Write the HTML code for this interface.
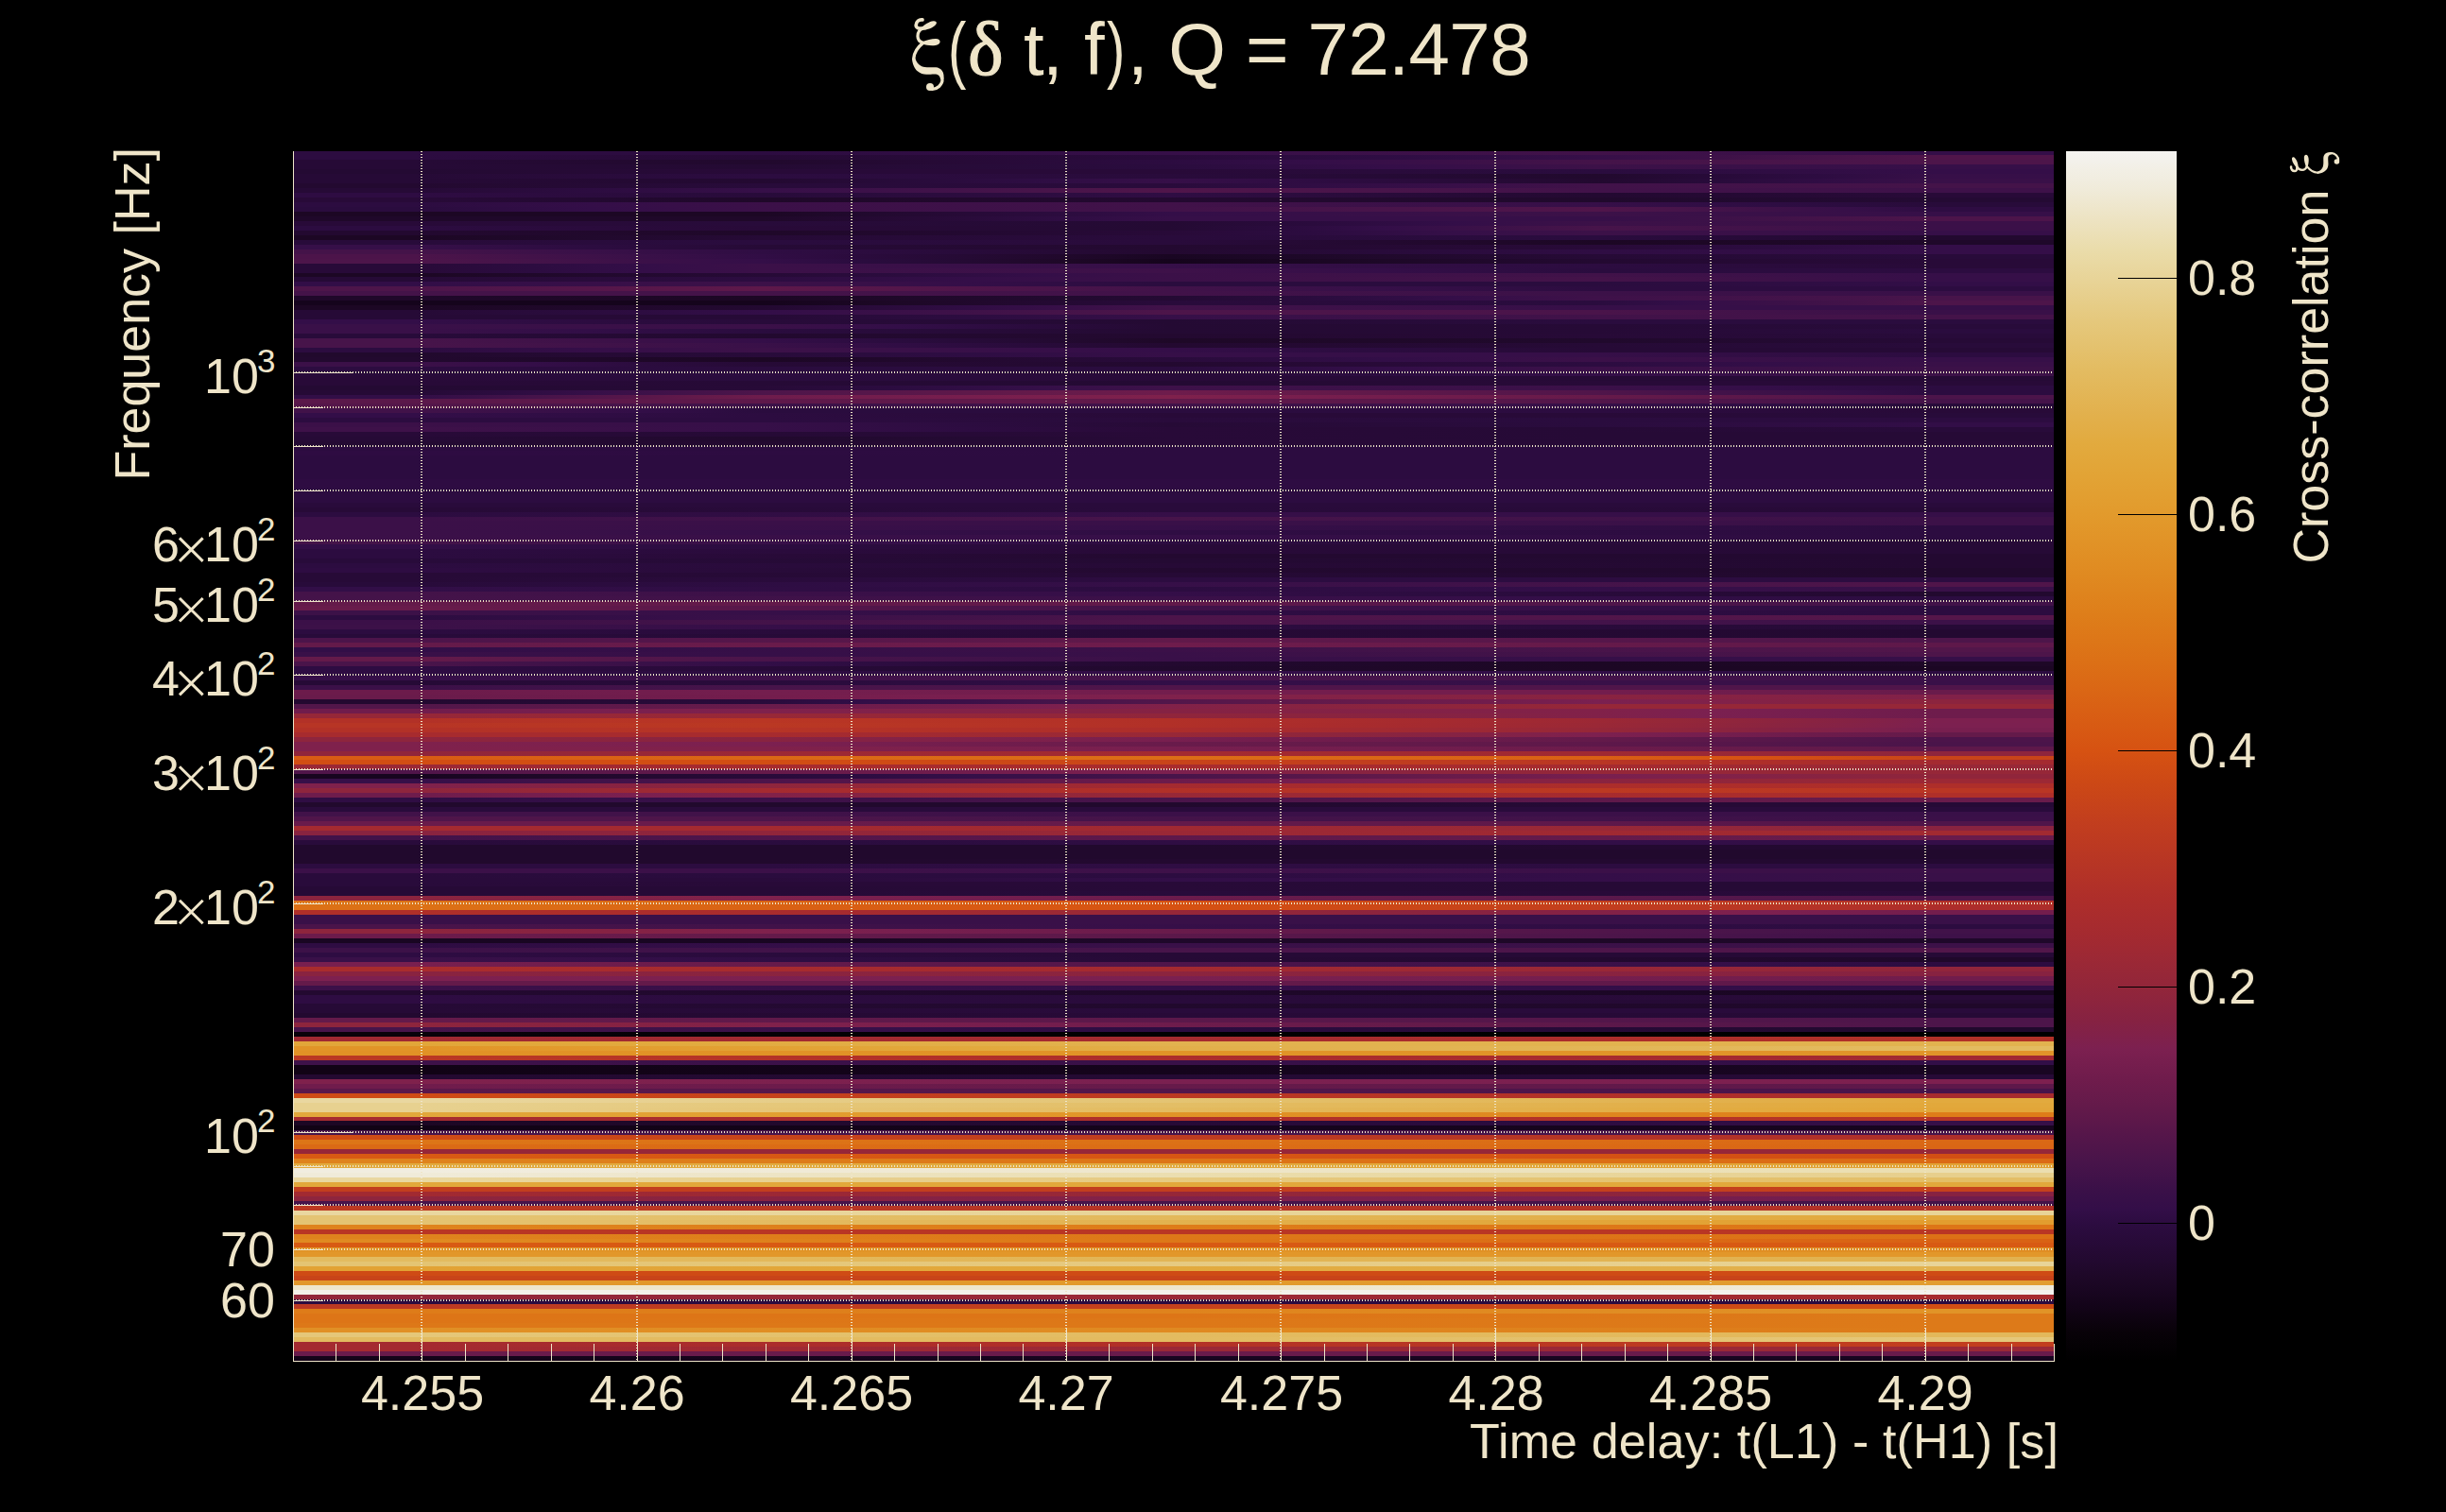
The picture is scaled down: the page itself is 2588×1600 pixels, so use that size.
<!DOCTYPE html><html><head><meta charset="utf-8"><title>xi</title><style>
html,body{margin:0;padding:0;background:#000;}
body{width:2588px;height:1600px;position:relative;overflow:hidden;font-family:"Liberation Sans",sans-serif;color:#efe5c9;}
div{position:absolute;}
.r{left:310px;width:1863px;}
.t{white-space:nowrap;line-height:1;}
.lb{font-size:52px;}
.gv{top:160px;height:1280px;width:2px;background:repeating-linear-gradient(to bottom,#efe5c9 0,#efe5c9 1px,transparent 1px,transparent 3px);}
.gh{left:310px;width:1863px;height:2px;background:repeating-linear-gradient(to right,#efe5c9 0,#efe5c9 1px,transparent 1px,transparent 3px);}
.k{background:#efe5c9;}
sup{font-size:31px;vertical-align:baseline;position:relative;top:-20px;margin-left:3px;}
.sy{font-family:"Liberation Serif",serif;}
</style></head><body>
<div class="r" style="top:1435px;height:5px;background:linear-gradient(to right,#130418 0.0%,#130418 7.0%,#17051f 49.8%,#17051f 93.3%,#17051f 100.0%)"></div>
<div class="r" style="top:1430px;height:5px;background:#691b4b"></div>
<div class="r" style="top:1425px;height:5px;background:linear-gradient(to right,#a42a30 0.0%,#a42a30 7.0%,#9f2933 28.4%,#9a2836 49.8%,#9a2836 93.3%,#9a2836 100.0%)"></div>
<div class="r" style="top:1420px;height:5px;background:linear-gradient(to right,#a42a30 0.0%,#a42a30 7.0%,#a92c2d 21.3%,#ae2e2a 35.5%,#b23127 49.8%,#b83624 64.3%,#bd3a21 78.8%,#c23e1e 93.3%,#c23e1e 100.0%)"></div>
<div class="r" style="top:1415px;height:5px;background:linear-gradient(to right,#e3bb60 0.0%,#e3bb60 7.0%,#e3bb60 49.8%,#e3bf68 64.3%,#e4c371 78.8%,#e5c779 93.3%,#e5c779 100.0%)"></div>
<div class="r" style="top:1410px;height:5px;background:linear-gradient(to right,#e5c779 0.0%,#e5c779 7.0%,#e4c371 21.3%,#e3bf68 35.5%,#e3bb60 49.8%,#e3b85a 93.3%,#e3b85a 100.0%)"></div>
<div class="r" style="top:1405px;height:5px;background:linear-gradient(to right,#e19025 0.0%,#e19025 7.0%,#e08a21 49.8%,#df851e 64.3%,#de7f1b 78.8%,#dd7a19 93.3%,#dd7a19 100.0%)"></div>
<div class="r" style="top:1400px;height:5px;background:linear-gradient(to right,#dd7818 0.0%,#dd7818 7.0%,#dd7818 49.8%,#dd7a19 93.3%,#dd7a19 100.0%)"></div>
<div class="r" style="top:1395px;height:5px;background:linear-gradient(to right,#dd7517 0.0%,#dd7517 7.0%,#dd7818 49.8%,#dd7a19 93.3%,#dd7a19 100.0%)"></div>
<div class="r" style="top:1390px;height:5px;background:linear-gradient(to right,#dd7517 0.0%,#dd7517 7.0%,#dd7517 49.8%,#dd7a19 93.3%,#dd7a19 100.0%)"></div>
<div class="r" style="top:1385px;height:5px;background:linear-gradient(to right,#de7c19 0.0%,#de7c19 7.0%,#de7f1b 28.4%,#df831d 49.8%,#e08920 64.3%,#e08e24 78.8%,#e19427 93.3%,#e19427 100.0%)"></div>
<div class="r" style="top:1380px;height:5px;background:linear-gradient(to right,#bc3922 0.0%,#bc3922 7.0%,#c03d1f 28.4%,#c5411c 49.8%,#c94518 64.3%,#ce4a15 78.8%,#d24e13 93.3%,#d24e13 100.0%)"></div>
<div class="r" style="top:1375px;height:5px;background:#2c0c40"></div>
<div class="r" style="top:1370px;height:5px;background:linear-gradient(to right,#92263a 0.0%,#92263a 7.0%,#9a2836 49.8%,#a02932 71.6%,#a62b2f 93.3%,#a62b2f 100.0%)"></div>
<div class="r" style="top:1365px;height:5px;background:linear-gradient(to right,#f3f1ea 0.0%,#f3f1ea 7.0%,#f3f1ea 49.8%,#f4f2ee 93.3%,#f4f2ee 100.0%)"></div>
<div class="r" style="top:1360px;height:5px;background:linear-gradient(to right,#eee6cb 0.0%,#eee6cb 7.0%,#eee6cb 49.8%,#f0ebd9 93.3%,#f0ebd9 100.0%)"></div>
<div class="r" style="top:1355px;height:5px;background:linear-gradient(to right,#e2972a 0.0%,#e2972a 7.0%,#e29a2c 49.8%,#e29d2f 93.3%,#e29d2f 100.0%)"></div>
<div class="r" style="top:1350px;height:5px;background:#c84419"></div>
<div class="r" style="top:1345px;height:5px;background:#cf4b15"></div>
<div class="r" style="top:1340px;height:5px;background:linear-gradient(to right,#e2a234 0.0%,#e2a234 7.0%,#e2a639 28.4%,#e2aa3e 49.8%,#e2ae47 71.6%,#e2b24f 93.3%,#e2b24f 100.0%)"></div>
<div class="r" style="top:1335px;height:5px;background:linear-gradient(to right,#e4c473 0.0%,#e4c473 7.0%,#e5c779 28.4%,#e6ca81 49.8%,#e7cf8c 71.6%,#e8d498 93.3%,#e8d498 100.0%)"></div>
<div class="r" style="top:1330px;height:5px;background:linear-gradient(to right,#e3bb60 0.0%,#e3bb60 7.0%,#e3b85a 28.4%,#e2b555 49.8%,#e2b24f 93.3%,#e2b24f 100.0%)"></div>
<div class="r" style="top:1325px;height:5px;background:#e2972a"></div>
<div class="r" style="top:1320px;height:5px;background:linear-gradient(to right,#e19427 0.0%,#e19427 7.0%,#e19427 49.8%,#e08d23 93.3%,#e08d23 100.0%)"></div>
<div class="r" style="top:1315px;height:5px;background:#d85a13"></div>
<div class="r" style="top:1311px;height:4px;background:linear-gradient(to right,#e08a21 0.0%,#e08a21 7.0%,#df841d 21.3%,#de7e1a 35.5%,#dd7818 49.8%,#dc7116 64.3%,#db6a15 78.8%,#d96214 93.3%,#d96214 100.0%)"></div>
<div class="r" style="top:1306px;height:5px;background:linear-gradient(to right,#df831d 0.0%,#df831d 7.0%,#de7e1a 28.4%,#dd7818 49.8%,#dd7517 71.6%,#dc7116 93.3%,#dc7116 100.0%)"></div>
<div class="r" style="top:1301px;height:5px;background:#b93624"></div>
<div class="r" style="top:1296px;height:5px;background:linear-gradient(to right,#df831d 0.0%,#df831d 7.0%,#de7f1b 28.4%,#de7c19 49.8%,#dd7818 71.6%,#dd7517 93.3%,#dd7517 100.0%)"></div>
<div class="r" style="top:1291px;height:5px;background:linear-gradient(to right,#e4c473 0.0%,#e4c473 7.0%,#e4bf69 17.7%,#e3bb60 28.4%,#e3b658 39.1%,#e2b24f 49.8%,#e2ac44 60.7%,#e2a73b 71.6%,#e2a234 82.4%,#e29d2f 93.3%,#e29d2f 100.0%)"></div>
<div class="r" style="top:1286px;height:5px;background:linear-gradient(to right,#e4c473 0.0%,#e4c473 7.0%,#e4c06a 21.3%,#e3bc62 35.5%,#e3b85a 49.8%,#e2b24f 64.3%,#e2ac44 78.8%,#e2a83b 93.3%,#e2a83b 100.0%)"></div>
<div class="r" style="top:1281px;height:5px;background:linear-gradient(to right,#e9d7a0 0.0%,#e9d7a0 7.0%,#e8d498 49.8%,#e8d498 93.3%,#e8d498 100.0%)"></div>
<div class="r" style="top:1276px;height:5px;background:linear-gradient(to right,#bc3922 0.0%,#bc3922 7.0%,#b93624 28.4%,#b63426 49.8%,#b23127 93.3%,#b23127 100.0%)"></div>
<div class="r" style="top:1271px;height:5px;background:linear-gradient(to right,#47144a 0.0%,#47144a 7.0%,#47144a 49.8%,#441349 93.3%,#441349 100.0%)"></div>
<div class="r" style="top:1266px;height:5px;background:linear-gradient(to right,#8e253d 0.0%,#8e253d 7.0%,#872241 28.4%,#812149 49.8%,#791f4f 71.6%,#701c4c 93.3%,#701c4c 100.0%)"></div>
<div class="r" style="top:1261px;height:5px;background:linear-gradient(to right,#a22a31 0.0%,#a22a31 7.0%,#9c2835 28.4%,#962738 49.8%,#8f253c 71.6%,#872241 93.3%,#872241 100.0%)"></div>
<div class="r" style="top:1256px;height:5px;background:linear-gradient(to right,#c23e1e 0.0%,#c23e1e 7.0%,#c23e1e 49.8%,#c5411c 93.3%,#c5411c 100.0%)"></div>
<div class="r" style="top:1251px;height:5px;background:#e2a83b"></div>
<div class="r" style="top:1246px;height:5px;background:linear-gradient(to right,#e9d7a0 0.0%,#e9d7a0 7.0%,#e8d395 21.3%,#e7ce8b 35.5%,#e6ca81 49.8%,#e5c677 64.3%,#e4c26f 78.8%,#e3be66 93.3%,#e3be66 100.0%)"></div>
<div class="r" style="top:1241px;height:5px;background:linear-gradient(to right,#f0ebd9 0.0%,#f0ebd9 7.0%,#eee6cb 21.3%,#ece2bd 35.5%,#ebdeb0 49.8%,#e9d9a3 64.3%,#e8d498 78.8%,#e7cf8c 93.3%,#e7cf8c 100.0%)"></div>
<div class="r" style="top:1236px;height:5px;background:linear-gradient(to right,#f1ede0 0.0%,#f1ede0 7.0%,#f0ead7 28.4%,#eee6cb 49.8%,#ece2bd 71.6%,#ebdeb0 93.3%,#ebdeb0 100.0%)"></div>
<div class="r" style="top:1231px;height:5px;background:linear-gradient(to right,#e2aa3e 0.0%,#e2aa3e 7.0%,#e2aa3e 49.8%,#e2a639 71.6%,#e2a234 93.3%,#e2a234 100.0%)"></div>
<div class="r" style="top:1226px;height:5px;background:linear-gradient(to right,#df831d 0.0%,#df831d 7.0%,#de7e1a 21.3%,#dd7a19 35.5%,#dd7517 49.8%,#dc7016 71.6%,#db6a15 93.3%,#db6a15 100.0%)"></div>
<div class="r" style="top:1221px;height:5px;background:linear-gradient(to right,#d85a13 0.0%,#d85a13 7.0%,#d75613 49.8%,#d24e13 93.3%,#d24e13 100.0%)"></div>
<div class="r" style="top:1216px;height:5px;background:#962738"></div>
<div class="r" style="top:1211px;height:5px;background:linear-gradient(to right,#db6a15 0.0%,#db6a15 7.0%,#dc6e16 49.8%,#da6615 93.3%,#da6615 100.0%)"></div>
<div class="r" style="top:1206px;height:5px;background:linear-gradient(to right,#dd7517 0.0%,#dd7517 7.0%,#dc7116 49.8%,#db6d16 71.6%,#da6815 93.3%,#da6815 100.0%)"></div>
<div class="r" style="top:1201px;height:5px;background:linear-gradient(to right,#cf4b15 0.0%,#cf4b15 7.0%,#c94518 21.3%,#c4401c 35.5%,#bf3c20 49.8%,#b93723 64.3%,#b33227 78.8%,#ae2e2a 93.3%,#ae2e2a 100.0%)"></div>
<div class="r" style="top:1196px;height:5px;background:#47144a"></div>
<div class="r" style="top:1191px;height:5px;background:linear-gradient(to right,#110315 0.0%,#110315 7.0%,#15041c 49.8%,#17051f 93.3%,#17051f 100.0%)"></div>
<div class="r" style="top:1186px;height:5px;background:linear-gradient(to right,#1c0724 0.0%,#1c0724 7.0%,#21092d 28.4%,#260a36 49.8%,#2c0c40 71.6%,#360f48 93.3%,#360f48 100.0%)"></div>
<div class="r" style="top:1182px;height:4px;background:linear-gradient(to right,#a62b2f 0.0%,#a62b2f 7.0%,#ab2d2c 28.4%,#af2f29 49.8%,#b63426 93.3%,#b63426 100.0%)"></div>
<div class="r" style="top:1177px;height:5px;background:linear-gradient(to right,#e2a83b 0.0%,#e2a83b 7.0%,#e2a335 17.7%,#e29e30 28.4%,#e2992b 39.1%,#e19427 49.8%,#e08e23 60.7%,#df8820 71.6%,#df821c 82.4%,#de7c19 93.3%,#de7c19 100.0%)"></div>
<div class="r" style="top:1172px;height:5px;background:linear-gradient(to right,#e7d190 0.0%,#e7d190 7.0%,#e6cb83 17.7%,#e5c576 28.4%,#e4c06b 39.1%,#e3bb60 49.8%,#e2b555 60.7%,#e2b04b 71.6%,#e2ab40 82.4%,#e2a639 93.3%,#e2a639 100.0%)"></div>
<div class="r" style="top:1167px;height:5px;background:linear-gradient(to right,#e7d190 0.0%,#e7d190 7.0%,#e6cc85 17.7%,#e5c779 28.4%,#e4c270 39.1%,#e3be66 49.8%,#e3b85a 60.7%,#e2b24f 71.6%,#e2ac44 82.4%,#e2a83b 93.3%,#e2a83b 100.0%)"></div>
<div class="r" style="top:1162px;height:5px;background:linear-gradient(to right,#e9d7a0 0.0%,#e9d7a0 7.0%,#e8d294 17.7%,#e6cd88 28.4%,#e5c87d 39.1%,#e4c473 49.8%,#e3be67 58.5%,#e3b95c 67.2%,#e2b453 75.9%,#e2ae48 84.6%,#e2aa3e 93.3%,#e2aa3e 100.0%)"></div>
<div class="r" style="top:1157px;height:5px;background:linear-gradient(to right,#cf4b15 0.0%,#cf4b15 7.0%,#c84419 21.3%,#c23e1e 35.5%,#bc3922 49.8%,#b73525 60.7%,#b23128 71.6%,#ad2d2b 82.4%,#a72b2e 93.3%,#a72b2e 100.0%)"></div>
<div class="r" style="top:1152px;height:5px;background:linear-gradient(to right,#5b184a 0.0%,#5b184a 7.0%,#52164a 49.8%,#4d154a 71.6%,#47144a 93.3%,#47144a 100.0%)"></div>
<div class="r" style="top:1147px;height:5px;background:linear-gradient(to right,#701c4c 0.0%,#701c4c 7.0%,#6c1b4b 28.4%,#661a4a 49.8%,#5e184a 93.3%,#5e184a 100.0%)"></div>
<div class="r" style="top:1142px;height:5px;background:linear-gradient(to right,#7f214c 0.0%,#7f214c 7.0%,#7a2050 49.8%,#7d204f 93.3%,#7d204f 100.0%)"></div>
<div class="r" style="top:1137px;height:5px;background:linear-gradient(to right,#230930 0.0%,#230930 7.0%,#240a33 49.8%,#260a36 93.3%,#260a36 100.0%)"></div>
<div class="r" style="top:1132px;height:5px;background:linear-gradient(to right,#110315 0.0%,#110315 7.0%,#15041c 49.8%,#190622 93.3%,#190622 100.0%)"></div>
<div class="r" style="top:1127px;height:5px;background:linear-gradient(to right,#110315 0.0%,#110315 7.0%,#15041c 49.8%,#190622 93.3%,#190622 100.0%)"></div>
<div class="r" style="top:1122px;height:5px;background:linear-gradient(to right,#3e1149 0.0%,#3e1149 7.0%,#391048 49.8%,#320e47 93.3%,#320e47 100.0%)"></div>
<div class="r" style="top:1117px;height:5px;background:linear-gradient(to right,#ba3823 0.0%,#ba3823 7.0%,#b63426 21.3%,#b13028 35.5%,#ac2d2b 49.8%,#a72b2e 71.6%,#a02932 93.3%,#a02932 100.0%)"></div>
<div class="r" style="top:1112px;height:5px;background:linear-gradient(to right,#e19226 0.0%,#e19226 7.0%,#e19427 49.8%,#e19529 93.3%,#e19529 100.0%)"></div>
<div class="r" style="top:1107px;height:5px;background:linear-gradient(to right,#e19427 0.0%,#e19427 7.0%,#e2992b 14.1%,#e29e30 21.3%,#e2a234 28.4%,#e2a73a 35.5%,#e2ab40 42.7%,#e2af4a 49.8%,#e2b555 71.6%,#e3bb60 93.3%,#e3bb60 100.0%)"></div>
<div class="r" style="top:1102px;height:5px;background:linear-gradient(to right,#e2a639 0.0%,#e2a639 7.0%,#e2aa3e 21.3%,#e2ae47 35.5%,#e2b24f 49.8%,#e2b24f 93.3%,#e2b24f 100.0%)"></div>
<div class="r" style="top:1097px;height:5px;background:linear-gradient(to right,#a02932 0.0%,#a02932 7.0%,#a62b2f 49.8%,#ac2d2b 71.6%,#b23127 93.3%,#b23127 100.0%)"></div>
<div class="r" style="top:1092px;height:5px;background:linear-gradient(to right,#09020a 0.0%,#09020a 7.0%,#050105 28.4%,#020102 49.8%,#000000 93.3%,#000000 100.0%)"></div>
<div class="r" style="top:1087px;height:5px;background:linear-gradient(to right,#47144a 0.0%,#47144a 7.0%,#3d1148 21.3%,#350f48 35.5%,#2c0c40 49.8%,#270a37 71.6%,#21092d 93.3%,#21092d 100.0%)"></div>
<div class="r" style="top:1082px;height:5px;background:linear-gradient(to right,#8e253d 0.0%,#8e253d 7.0%,#862242 17.7%,#7f214c 28.4%,#771e4e 39.1%,#6e1c4c 49.8%,#641a4a 64.3%,#58174a 78.8%,#4d154a 93.3%,#4d154a 100.0%)"></div>
<div class="r" style="top:1077px;height:5px;background:linear-gradient(to right,#641a4a 0.0%,#641a4a 7.0%,#5b184a 49.8%,#54164a 71.6%,#4d154a 93.3%,#4d154a 100.0%)"></div>
<div class="r" style="top:1072px;height:5px;background:linear-gradient(to right,#230930 0.0%,#230930 7.0%,#280a38 49.8%,#260a36 93.3%,#260a36 100.0%)"></div>
<div class="r" style="top:1067px;height:5px;background:linear-gradient(to right,#260a36 0.0%,#260a36 7.0%,#290b3b 49.8%,#290b3b 93.3%,#290b3b 100.0%)"></div>
<div class="r" style="top:1062px;height:5px;background:linear-gradient(to right,#260a36 0.0%,#260a36 7.0%,#21092d 49.8%,#1f082a 93.3%,#1f082a 100.0%)"></div>
<div class="r" style="top:1058px;height:4px;background:linear-gradient(to right,#2e0c42 0.0%,#2e0c42 7.0%,#290b3b 49.8%,#240a33 93.3%,#240a33 100.0%)"></div>
<div class="r" style="top:1053px;height:5px;background:linear-gradient(to right,#2e0c42 0.0%,#2e0c42 7.0%,#290b3b 49.8%,#280a38 93.3%,#280a38 100.0%)"></div>
<div class="r" style="top:1048px;height:5px;background:linear-gradient(to right,#230930 0.0%,#230930 7.0%,#1f082a 49.8%,#190622 93.3%,#190622 100.0%)"></div>
<div class="r" style="top:1043px;height:5px;background:linear-gradient(to right,#3b1048 0.0%,#3b1048 7.0%,#340e48 49.8%,#320e47 93.3%,#320e47 100.0%)"></div>
<div class="r" style="top:1038px;height:5px;background:linear-gradient(to right,#641a4a 0.0%,#641a4a 7.0%,#641a4a 49.8%,#5e184a 93.3%,#5e184a 100.0%)"></div>
<div class="r" style="top:1033px;height:5px;background:linear-gradient(to right,#7d204f 0.0%,#7d204f 7.0%,#7a2050 49.8%,#701c4c 93.3%,#701c4c 100.0%)"></div>
<div class="r" style="top:1028px;height:5px;background:linear-gradient(to right,#892340 0.0%,#892340 7.0%,#8c243e 49.8%,#872241 93.3%,#872241 100.0%)"></div>
<div class="r" style="top:1023px;height:5px;background:linear-gradient(to right,#a92c2d 0.0%,#a92c2d 7.0%,#a42a30 49.8%,#9d2934 64.3%,#972738 78.8%,#90253b 93.3%,#90253b 100.0%)"></div>
<div class="r" style="top:1018px;height:5px;background:linear-gradient(to right,#791f4f 0.0%,#791f4f 7.0%,#6f1c4c 17.7%,#661a4a 28.4%,#5b174a 39.1%,#50154a 49.8%,#46134a 60.7%,#3d1148 71.6%,#350f48 82.4%,#2c0c40 93.3%,#2c0c40 100.0%)"></div>
<div class="r" style="top:1013px;height:5px;background:linear-gradient(to right,#391048 0.0%,#391048 7.0%,#320e47 21.3%,#2a0c3e 35.5%,#260a36 49.8%,#1f082a 93.3%,#1f082a 100.0%)"></div>
<div class="r" style="top:1008px;height:5px;background:linear-gradient(to right,#2e0c42 0.0%,#2e0c42 7.0%,#290b3c 28.4%,#260a36 49.8%,#260a36 93.3%,#260a36 100.0%)"></div>
<div class="r" style="top:1003px;height:5px;background:linear-gradient(to right,#3c1148 0.0%,#3c1148 7.0%,#47144a 49.8%,#4d154a 71.6%,#52164a 93.3%,#52164a 100.0%)"></div>
<div class="r" style="top:998px;height:5px;background:linear-gradient(to right,#2e0c42 0.0%,#2e0c42 7.0%,#340e48 28.4%,#391048 49.8%,#3c1148 93.3%,#3c1148 100.0%)"></div>
<div class="r" style="top:993px;height:5px;background:linear-gradient(to right,#190622 0.0%,#190622 7.0%,#190622 26.7%,#1f082a 49.8%,#1e0827 74.0%,#1f082a 93.3%,#1f082a 100.0%)"></div>
<div class="r" style="top:988px;height:5px;background:linear-gradient(to right,#6c1b4b 0.0%,#6c1b4b 7.0%,#641a4a 26.7%,#5b184a 49.8%,#54164a 61.9%,#4d154a 74.0%,#45134a 83.6%,#3e1149 93.3%,#3e1149 100.0%)"></div>
<div class="r" style="top:983px;height:5px;background:linear-gradient(to right,#8e253d 0.0%,#8e253d 7.0%,#862242 16.9%,#7f214c 26.7%,#781f4f 34.4%,#701c4c 42.1%,#691b4b 49.8%,#61194a 57.9%,#58174a 65.9%,#50154a 74.0%,#48144a 83.6%,#411249 93.3%,#411249 100.0%)"></div>
<div class="r" style="top:978px;height:5px;background:linear-gradient(to right,#4a144a 0.0%,#4a144a 7.0%,#411249 26.7%,#360f48 49.8%,#2f0d43 74.0%,#2c0c40 93.3%,#2c0c40 100.0%)"></div>
<div class="r" style="top:973px;height:5px;background:#391048"></div>
<div class="r" style="top:968px;height:5px;background:#391048"></div>
<div class="r" style="top:963px;height:5px;background:linear-gradient(to right,#af2f29 0.0%,#af2f29 7.0%,#ac2d2b 16.9%,#a92c2d 26.7%,#a42a30 34.4%,#9d2934 42.1%,#962738 49.8%,#90253b 57.9%,#892340 65.9%,#832146 74.0%,#7c2050 83.6%,#731d4d 93.3%,#731d4d 100.0%)"></div>
<div class="r" style="top:958px;height:5px;background:linear-gradient(to right,#dc7116 0.0%,#dc7116 7.0%,#db6a15 16.9%,#d96214 26.7%,#d85a13 38.3%,#d65212 49.8%,#cf4b15 57.9%,#c84419 65.9%,#c23e1e 74.0%,#bd3a21 78.8%,#b73525 83.6%,#b23128 88.5%,#ac2d2b 93.3%,#ac2d2b 100.0%)"></div>
<div class="r" style="top:953px;height:5px;background:linear-gradient(to right,#dc7317 0.0%,#dc7317 7.0%,#db6c15 16.9%,#da6414 26.7%,#d85e14 34.4%,#d75813 42.1%,#d65212 49.8%,#cf4b15 57.9%,#c94518 65.9%,#c4401d 74.0%,#bd3a21 80.4%,#b73525 86.8%,#b13028 93.3%,#b13028 100.0%)"></div>
<div class="r" style="top:948px;height:5px;background:linear-gradient(to right,#8c243e 0.0%,#8c243e 7.0%,#852243 16.9%,#7f214c 26.7%,#761e4e 38.3%,#6c1b4b 49.8%,#641a4a 61.9%,#5b184a 74.0%,#53164a 83.6%,#4c144a 93.3%,#4c144a 100.0%)"></div>
<div class="r" style="top:943px;height:5px;background:linear-gradient(to right,#260a36 0.0%,#260a36 7.0%,#260a36 26.7%,#280b3a 49.8%,#280a38 74.0%,#290b3b 93.3%,#290b3b 100.0%)"></div>
<div class="r" style="top:938px;height:5px;background:linear-gradient(to right,#260a36 0.0%,#260a36 7.0%,#260a36 26.7%,#280a38 49.8%,#260a36 74.0%,#260a36 93.3%,#260a36 100.0%)"></div>
<div class="r" style="top:933px;height:5px;background:linear-gradient(to right,#290b3b 0.0%,#290b3b 7.0%,#280a38 26.7%,#280a38 49.8%,#260a36 74.0%,#260a36 93.3%,#260a36 100.0%)"></div>
<div class="r" style="top:929px;height:4px;background:linear-gradient(to right,#290b3b 0.0%,#290b3b 7.0%,#290b3b 26.7%,#320e47 49.8%,#340e48 74.0%,#391048 93.3%,#391048 100.0%)"></div>
<div class="r" style="top:924px;height:5px;background:linear-gradient(to right,#290b3b 0.0%,#290b3b 7.0%,#2a0c3e 26.7%,#2c0c40 49.8%,#340e48 74.0%,#391048 93.3%,#391048 100.0%)"></div>
<div class="r" style="top:919px;height:5px;background:linear-gradient(to right,#3b1048 0.0%,#3b1048 7.0%,#3b1048 26.7%,#3e1149 49.8%,#3b1048 74.0%,#3b1048 93.3%,#3b1048 100.0%)"></div>
<div class="r" style="top:914px;height:5px;background:linear-gradient(to right,#2c0c40 0.0%,#2c0c40 7.0%,#2c0c40 26.7%,#2f0d43 49.8%,#2c0c40 74.0%,#2c0c40 93.3%,#2c0c40 100.0%)"></div>
<div class="r" style="top:909px;height:5px;background:linear-gradient(to right,#21092d 0.0%,#21092d 7.0%,#21092d 26.7%,#230930 49.8%,#230930 74.0%,#230931 93.3%,#230931 100.0%)"></div>
<div class="r" style="top:904px;height:5px;background:#21092d"></div>
<div class="r" style="top:899px;height:5px;background:#21092d"></div>
<div class="r" style="top:894px;height:5px;background:linear-gradient(to right,#21092d 0.0%,#21092d 7.0%,#21092d 26.7%,#21092d 49.8%,#230930 74.0%,#230931 93.3%,#230931 100.0%)"></div>
<div class="r" style="top:889px;height:5px;background:linear-gradient(to right,#290b3b 0.0%,#290b3b 7.0%,#2a0c3e 26.7%,#2f0d43 49.8%,#320e47 74.0%,#340e48 93.3%,#340e48 100.0%)"></div>
<div class="r" style="top:884px;height:5px;background:linear-gradient(to right,#411249 0.0%,#411249 7.0%,#48144a 16.9%,#50154a 26.7%,#57164a 38.3%,#5e184a 49.8%,#641a4a 74.0%,#691b4b 93.3%,#691b4b 100.0%)"></div>
<div class="r" style="top:879px;height:5px;background:linear-gradient(to right,#892340 0.0%,#892340 7.0%,#90253b 26.7%,#952738 38.3%,#9a2836 49.8%,#a02932 74.0%,#a22a31 93.3%,#a22a31 100.0%)"></div>
<div class="r" style="top:874px;height:5px;background:linear-gradient(to right,#a42a30 0.0%,#a42a30 7.0%,#a42a30 26.7%,#a02932 49.8%,#982837 74.0%,#91263b 83.6%,#892340 93.3%,#892340 100.0%)"></div>
<div class="r" style="top:869px;height:5px;background:linear-gradient(to right,#691b4b 0.0%,#691b4b 7.0%,#691b4b 26.7%,#641a4a 49.8%,#5e184a 74.0%,#57164a 83.6%,#50154a 93.3%,#50154a 100.0%)"></div>
<div class="r" style="top:864px;height:5px;background:linear-gradient(to right,#50154a 0.0%,#50154a 7.0%,#4d154a 26.7%,#441349 49.8%,#411249 74.0%,#3b1048 93.3%,#3b1048 100.0%)"></div>
<div class="r" style="top:859px;height:5px;background:linear-gradient(to right,#411249 0.0%,#411249 7.0%,#411249 26.7%,#3b1048 49.8%,#3b1048 74.0%,#391048 93.3%,#391048 100.0%)"></div>
<div class="r" style="top:854px;height:5px;background:#290b3b"></div>
<div class="r" style="top:849px;height:5px;background:linear-gradient(to right,#21092d 0.0%,#21092d 7.0%,#21092d 26.7%,#21092d 49.8%,#260a36 74.0%,#260a36 93.3%,#260a36 100.0%)"></div>
<div class="r" style="top:844px;height:5px;background:linear-gradient(to right,#2f0d43 0.0%,#2f0d43 7.0%,#350f48 16.9%,#3b1048 26.7%,#421249 38.3%,#4a144a 49.8%,#54164a 61.9%,#5e184a 74.0%,#641a4a 83.6%,#691b4b 93.3%,#691b4b 100.0%)"></div>
<div class="r" style="top:839px;height:5px;background:linear-gradient(to right,#6e1c4c 0.0%,#6e1c4c 7.0%,#751e4e 13.6%,#7b2050 20.1%,#812149 26.7%,#892340 34.4%,#91263b 42.1%,#982837 49.8%,#9d2934 57.9%,#a32a31 65.9%,#a72b2e 74.0%,#ab2d2c 83.6%,#af2f29 93.3%,#af2f29 100.0%)"></div>
<div class="r" style="top:834px;height:5px;background:linear-gradient(to right,#8e253d 0.0%,#8e253d 7.0%,#952738 13.6%,#9d2934 20.1%,#a42a30 26.7%,#ab2d2c 38.3%,#b13028 49.8%,#b63525 61.9%,#bc3922 74.0%,#b93624 93.3%,#b93624 100.0%)"></div>
<div class="r" style="top:829px;height:5px;background:linear-gradient(to right,#7f214c 0.0%,#7f214c 7.0%,#862242 16.9%,#8e253d 26.7%,#952738 34.4%,#9d2934 42.1%,#a42a30 49.8%,#a82c2d 61.9%,#ac2d2b 74.0%,#ae2e2a 93.3%,#ae2e2a 100.0%)"></div>
<div class="r" style="top:824px;height:5px;background:linear-gradient(to right,#360f48 0.0%,#360f48 7.0%,#401249 16.9%,#4c144a 26.7%,#57164a 34.4%,#62194a 42.1%,#6c1b4b 49.8%,#741d4d 55.9%,#7c2050 61.9%,#832147 67.9%,#892340 74.0%,#90253b 80.4%,#962738 86.8%,#9c2835 93.3%,#9c2835 100.0%)"></div>
<div class="r" style="top:819px;height:5px;background:linear-gradient(to right,#17051f 0.0%,#17051f 7.0%,#1e0827 13.6%,#230930 20.1%,#280a39 26.7%,#2d0c41 32.5%,#350f48 38.3%,#3d1148 44.0%,#47144a 49.8%,#51154a 54.6%,#5c184a 59.5%,#661a4a 64.3%,#6f1c4c 69.1%,#781f4f 74.0%,#80214a 80.4%,#882341 86.8%,#90253b 93.3%,#90253b 100.0%)"></div>
<div class="r" style="top:814px;height:5px;background:linear-gradient(to right,#50154a 0.0%,#50154a 7.0%,#5b184a 16.9%,#661a4a 26.7%,#6e1c4c 34.4%,#761e4e 42.1%,#7d204f 49.8%,#852243 57.9%,#8e253d 65.9%,#962738 74.0%,#962738 93.3%,#962738 100.0%)"></div>
<div class="r" style="top:809px;height:5px;background:linear-gradient(to right,#9a2836 0.0%,#9a2836 7.0%,#a12932 16.9%,#a72b2e 26.7%,#a92c2d 49.8%,#a62b2f 74.0%,#9f2933 83.6%,#982837 93.3%,#982837 100.0%)"></div>
<div class="r" style="top:804px;height:5px;background:linear-gradient(to right,#d24e13 0.0%,#d24e13 7.0%,#d24e13 26.7%,#cd4916 38.3%,#c84419 49.8%,#c33f1d 57.9%,#be3b20 65.9%,#b93624 74.0%,#b43227 78.8%,#ae2e2a 83.6%,#a92c2d 88.5%,#a42a30 93.3%,#a42a30 100.0%)"></div>
<div class="r" style="top:800px;height:4px;background:linear-gradient(to right,#d85c13 0.0%,#d85c13 7.0%,#d96214 16.9%,#da6815 26.7%,#dc6e16 49.8%,#da6715 61.9%,#d96014 74.0%,#d75813 78.8%,#d55112 83.6%,#ce4a15 88.5%,#c84419 93.3%,#c84419 100.0%)"></div>
<div class="r" style="top:795px;height:5px;background:linear-gradient(to right,#90253b 0.0%,#90253b 7.0%,#962738 16.9%,#9c2835 26.7%,#a42a30 49.8%,#a02932 74.0%,#9a2836 80.4%,#942639 86.8%,#8e253d 93.3%,#8e253d 100.0%)"></div>
<div class="r" style="top:790px;height:5px;background:linear-gradient(to right,#7f214c 0.0%,#7f214c 7.0%,#80214a 26.7%,#781f4f 49.8%,#721d4d 61.9%,#6c1b4b 74.0%,#651a4a 83.6%,#5e184a 93.3%,#5e184a 100.0%)"></div>
<div class="r" style="top:785px;height:5px;background:linear-gradient(to right,#7f214c 0.0%,#7f214c 7.0%,#7c2050 26.7%,#721d4d 38.3%,#691b4b 49.8%,#641a4a 61.9%,#5e184a 74.0%,#54164a 83.6%,#4a144a 93.3%,#4a144a 100.0%)"></div>
<div class="r" style="top:780px;height:5px;background:linear-gradient(to right,#8e253d 0.0%,#8e253d 7.0%,#892340 26.7%,#812149 38.3%,#781f4f 49.8%,#711c4c 57.9%,#6b1b4b 65.9%,#641a4a 74.0%,#5c184a 80.4%,#54164a 86.8%,#4c144a 93.3%,#4c144a 100.0%)"></div>
<div class="r" style="top:775px;height:5px;background:linear-gradient(to right,#a72b2e 0.0%,#a72b2e 7.0%,#a72b2e 26.7%,#a32a31 34.4%,#9d2934 42.1%,#982837 49.8%,#91263a 55.9%,#8a243f 61.9%,#842245 67.9%,#7d204f 74.0%,#751e4e 80.4%,#6c1b4b 86.8%,#641a4a 93.3%,#641a4a 100.0%)"></div>
<div class="r" style="top:770px;height:5px;background:linear-gradient(to right,#b23127 0.0%,#b23127 7.0%,#b63426 26.7%,#b13028 38.3%,#ac2d2b 49.8%,#a72b2e 55.9%,#a22a31 61.9%,#9c2835 67.9%,#962738 74.0%,#8f253c 78.8%,#872241 83.6%,#80214a 88.5%,#781f4f 93.3%,#781f4f 100.0%)"></div>
<div class="r" style="top:765px;height:5px;background:linear-gradient(to right,#b73525 0.0%,#b73525 7.0%,#ba3823 26.7%,#b63426 38.3%,#b13028 49.8%,#ac2d2b 55.9%,#a72b2e 61.9%,#a12932 67.9%,#9a2836 74.0%,#93263a 78.8%,#8b243f 83.6%,#842246 88.5%,#7c2050 93.3%,#7c2050 100.0%)"></div>
<div class="r" style="top:760px;height:5px;background:linear-gradient(to right,#b23127 0.0%,#b23127 7.0%,#b63426 16.9%,#b93624 26.7%,#b53326 38.3%,#b13028 49.8%,#ab2d2c 57.9%,#a42a30 65.9%,#9c2835 74.0%,#942739 78.8%,#8d243e 83.6%,#852244 88.5%,#7d204f 93.3%,#7d204f 100.0%)"></div>
<div class="r" style="top:755px;height:5px;background:linear-gradient(to right,#962738 0.0%,#962738 7.0%,#982837 26.7%,#90253b 49.8%,#882340 61.9%,#812149 74.0%,#7b2050 80.4%,#751e4e 86.8%,#6e1c4c 93.3%,#6e1c4c 100.0%)"></div>
<div class="r" style="top:750px;height:5px;background:linear-gradient(to right,#701c4c 0.0%,#701c4c 7.0%,#781f4f 16.9%,#7f214c 26.7%,#852243 49.8%,#812149 74.0%,#7b2050 80.4%,#751e4e 86.8%,#6e1c4c 93.3%,#6e1c4c 100.0%)"></div>
<div class="r" style="top:745px;height:5px;background:linear-gradient(to right,#52164a 0.0%,#52164a 7.0%,#5e184a 16.9%,#691b4b 26.7%,#711c4c 34.4%,#7a1f4f 42.1%,#812149 49.8%,#882341 57.9%,#8f253c 65.9%,#962738 74.0%,#962738 93.3%,#962738 100.0%)"></div>
<div class="r" style="top:740px;height:5px;background:linear-gradient(to right,#230930 0.0%,#230930 7.0%,#290b3b 26.7%,#320e47 32.5%,#3b1048 38.3%,#47144a 44.0%,#52164a 49.8%,#5d184a 55.9%,#681b4b 61.9%,#711c4c 67.9%,#7a2050 74.0%,#80214a 80.4%,#862242 86.8%,#8c243e 93.3%,#8c243e 100.0%)"></div>
<div class="r" style="top:735px;height:5px;background:linear-gradient(to right,#691b4b 0.0%,#691b4b 7.0%,#6e1c4c 16.9%,#731d4d 26.7%,#791f4f 38.3%,#7f214c 49.8%,#842245 61.9%,#892340 74.0%,#812149 93.3%,#812149 100.0%)"></div>
<div class="r" style="top:730px;height:5px;background:linear-gradient(to right,#6c1b4b 0.0%,#6c1b4b 7.0%,#741e4e 26.7%,#731d4d 49.8%,#731d4d 74.0%,#6e1c4c 83.6%,#691b4b 93.3%,#691b4b 100.0%)"></div>
<div class="r" style="top:725px;height:5px;background:linear-gradient(to right,#3b1048 0.0%,#3b1048 7.0%,#411249 16.9%,#47144a 26.7%,#50154a 49.8%,#50154a 74.0%,#50154a 93.3%,#50154a 100.0%)"></div>
<div class="r" style="top:720px;height:5px;background:linear-gradient(to right,#260a36 0.0%,#260a36 7.0%,#290b3b 26.7%,#320e47 49.8%,#391048 74.0%,#391048 93.3%,#391048 100.0%)"></div>
<div class="r" style="top:715px;height:5px;background:linear-gradient(to right,#360f48 0.0%,#360f48 7.0%,#3e1149 26.7%,#47144a 49.8%,#441349 74.0%,#3b1048 93.3%,#3b1048 100.0%)"></div>
<div class="r" style="top:710px;height:5px;background:linear-gradient(to right,#2e0c42 0.0%,#2e0c42 7.0%,#2c0c40 26.7%,#340e48 49.8%,#320e47 74.0%,#2c0c40 93.3%,#2c0c40 100.0%)"></div>
<div class="r" style="top:705px;height:5px;background:linear-gradient(to right,#2e0c42 0.0%,#2e0c42 7.0%,#280a38 26.7%,#240a33 38.3%,#21092d 49.8%,#1c0724 74.0%,#1c0724 93.3%,#1c0724 100.0%)"></div>
<div class="r" style="top:700px;height:5px;background:linear-gradient(to right,#4a144a 0.0%,#4a144a 7.0%,#411249 13.6%,#391048 20.1%,#320e47 26.7%,#290b3b 38.3%,#230930 49.8%,#1f082a 61.9%,#1c0724 74.0%,#1e0827 93.3%,#1e0827 100.0%)"></div>
<div class="r" style="top:695px;height:5px;background:linear-gradient(to right,#641a4a 0.0%,#641a4a 7.0%,#5b184a 13.6%,#52164a 20.1%,#4a144a 26.7%,#411249 38.3%,#391048 49.8%,#360f48 74.0%,#360f48 93.3%,#360f48 100.0%)"></div>
<div class="r" style="top:690px;height:5px;background:linear-gradient(to right,#391048 0.0%,#391048 7.0%,#360f48 26.7%,#391048 49.8%,#441349 74.0%,#4d154a 93.3%,#4d154a 100.0%)"></div>
<div class="r" style="top:685px;height:5px;background:linear-gradient(to right,#320e47 0.0%,#320e47 7.0%,#3b1048 49.8%,#431349 64.3%,#4b144a 78.8%,#52164a 93.3%,#52164a 100.0%)"></div>
<div class="r" style="top:680px;height:5px;background:linear-gradient(to right,#641a4a 0.0%,#641a4a 7.0%,#6e1c4c 49.8%,#661a4a 71.6%,#5e184a 93.3%,#5e184a 100.0%)"></div>
<div class="r" style="top:675px;height:5px;background:linear-gradient(to right,#4c144a 0.0%,#4c144a 7.0%,#56164a 28.4%,#61194a 49.8%,#57164a 71.6%,#4d154a 93.3%,#4d154a 100.0%)"></div>
<div class="r" style="top:671px;height:4px;background:linear-gradient(to right,#280b3a 0.0%,#280b3a 7.0%,#260a36 49.8%,#230931 93.3%,#230931 100.0%)"></div>
<div class="r" style="top:666px;height:5px;background:linear-gradient(to right,#2c0c40 0.0%,#2c0c40 7.0%,#260a36 49.8%,#230931 93.3%,#230931 100.0%)"></div>
<div class="r" style="top:661px;height:5px;background:linear-gradient(to right,#3c1148 0.0%,#3c1148 7.0%,#350e48 28.4%,#2c0c40 49.8%,#260a36 93.3%,#260a36 100.0%)"></div>
<div class="r" style="top:656px;height:5px;background:linear-gradient(to right,#3b1048 0.0%,#3b1048 7.0%,#441349 28.4%,#4d154a 49.8%,#44134a 71.6%,#3c1148 93.3%,#3c1148 100.0%)"></div>
<div class="r" style="top:651px;height:5px;background:linear-gradient(to right,#2c0c40 0.0%,#2c0c40 7.0%,#360f48 21.3%,#401249 35.5%,#4c144a 49.8%,#55164a 93.3%,#55164a 100.0%)"></div>
<div class="r" style="top:646px;height:5px;background:linear-gradient(to right,#3c1148 0.0%,#3c1148 7.0%,#360f48 28.4%,#2f0d43 49.8%,#2c0c40 93.3%,#2c0c40 100.0%)"></div>
<div class="r" style="top:641px;height:5px;background:linear-gradient(to right,#681b4b 0.0%,#681b4b 7.0%,#5f184a 17.7%,#55164a 28.4%,#4b144a 39.1%,#411249 49.8%,#360f48 71.6%,#2c0c40 93.3%,#2c0c40 100.0%)"></div>
<div class="r" style="top:636px;height:5px;background:linear-gradient(to right,#641a4a 0.0%,#641a4a 7.0%,#61194a 49.8%,#56164a 64.3%,#4c154a 78.8%,#411249 93.3%,#411249 100.0%)"></div>
<div class="r" style="top:631px;height:5px;background:linear-gradient(to right,#441349 0.0%,#441349 7.0%,#3b1048 49.8%,#340e48 71.6%,#2c0c40 93.3%,#2c0c40 100.0%)"></div>
<div class="r" style="top:626px;height:5px;background:linear-gradient(to right,#441349 0.0%,#441349 7.0%,#3b1048 28.4%,#340e48 49.8%,#2c0c40 64.3%,#270a38 78.8%,#22092f 93.3%,#22092f 100.0%)"></div>
<div class="r" style="top:621px;height:5px;background:linear-gradient(to right,#320e47 0.0%,#320e47 7.0%,#2c0c40 49.8%,#330e48 71.6%,#391048 93.3%,#391048 100.0%)"></div>
<div class="r" style="top:616px;height:5px;background:linear-gradient(to right,#280b3a 0.0%,#280b3a 7.0%,#2e0d43 28.4%,#360f48 49.8%,#3e1149 64.3%,#47144a 78.8%,#50154a 93.3%,#50154a 100.0%)"></div>
<div class="r" style="top:611px;height:5px;background:linear-gradient(to right,#270a37 0.0%,#270a37 7.0%,#2c0c40 49.8%,#2c0c40 93.3%,#2c0c40 100.0%)"></div>
<div class="r" style="top:606px;height:5px;background:linear-gradient(to right,#270a37 0.0%,#270a37 7.0%,#260a36 49.8%,#21092d 93.3%,#21092d 100.0%)"></div>
<div class="r" style="top:601px;height:5px;background:linear-gradient(to right,#2e0c42 0.0%,#2e0c42 7.0%,#280b39 28.4%,#230930 49.8%,#21092d 93.3%,#21092d 100.0%)"></div>
<div class="r" style="top:596px;height:5px;background:linear-gradient(to right,#2c0c40 0.0%,#2c0c40 7.0%,#260a36 49.8%,#230931 93.3%,#230931 100.0%)"></div>
<div class="r" style="top:591px;height:5px;background:linear-gradient(to right,#280b3a 0.0%,#280b3a 7.0%,#240a33 49.8%,#230931 93.3%,#230931 100.0%)"></div>
<div class="r" style="top:586px;height:5px;background:linear-gradient(to right,#2c0c40 0.0%,#2c0c40 7.0%,#280a38 28.4%,#230930 49.8%,#230931 93.3%,#230931 100.0%)"></div>
<div class="r" style="top:581px;height:5px;background:linear-gradient(to right,#2c0c40 0.0%,#2c0c40 7.0%,#280a38 49.8%,#260a36 93.3%,#260a36 100.0%)"></div>
<div class="r" style="top:576px;height:5px;background:linear-gradient(to right,#320e47 0.0%,#320e47 7.0%,#2b0c3f 28.4%,#280a38 49.8%,#260a36 93.3%,#260a36 100.0%)"></div>
<div class="r" style="top:571px;height:5px;background:linear-gradient(to right,#441349 0.0%,#441349 7.0%,#3b1048 21.3%,#340e48 35.5%,#2c0c40 49.8%,#270a37 93.3%,#270a37 100.0%)"></div>
<div class="r" style="top:566px;height:5px;background:linear-gradient(to right,#3b1048 0.0%,#3b1048 7.0%,#360f48 49.8%,#2c0c40 93.3%,#2c0c40 100.0%)"></div>
<div class="r" style="top:561px;height:5px;background:linear-gradient(to right,#3b1048 0.0%,#3b1048 7.0%,#350f48 28.4%,#2f0d43 49.8%,#2c0c40 93.3%,#2c0c40 100.0%)"></div>
<div class="r" style="top:556px;height:5px;background:linear-gradient(to right,#3b1048 0.0%,#3b1048 7.0%,#360f48 49.8%,#2c0c40 93.3%,#2c0c40 100.0%)"></div>
<div class="r" style="top:551px;height:5px;background:linear-gradient(to right,#3b1048 0.0%,#3b1048 7.0%,#391048 49.8%,#3c1148 93.3%,#3c1148 100.0%)"></div>
<div class="r" style="top:547px;height:4px;background:linear-gradient(to right,#3b1048 0.0%,#3b1048 7.0%,#411249 28.4%,#47144a 49.8%,#3c1148 93.3%,#3c1148 100.0%)"></div>
<div class="r" style="top:542px;height:5px;background:linear-gradient(to right,#2c0c40 0.0%,#2c0c40 7.0%,#360f48 49.8%,#360f48 93.3%,#360f48 100.0%)"></div>
<div class="r" style="top:537px;height:5px;background:linear-gradient(to right,#270a37 0.0%,#270a37 7.0%,#290b3b 49.8%,#270a37 93.3%,#270a37 100.0%)"></div>
<div class="r" style="top:532px;height:5px;background:#290b3b"></div>
<div class="r" style="top:527px;height:5px;background:#2c0c40"></div>
<div class="r" style="top:522px;height:5px;background:#2c0c40"></div>
<div class="r" style="top:517px;height:5px;background:#2c0c40"></div>
<div class="r" style="top:512px;height:5px;background:#2e0c42"></div>
<div class="r" style="top:507px;height:5px;background:#2e0c42"></div>
<div class="r" style="top:502px;height:5px;background:#2c0c40"></div>
<div class="r" style="top:497px;height:5px;background:#2c0c40"></div>
<div class="r" style="top:492px;height:5px;background:#2c0c40"></div>
<div class="r" style="top:487px;height:5px;background:#2c0c40"></div>
<div class="r" style="top:482px;height:5px;background:#2c0c40"></div>
<div class="r" style="top:477px;height:5px;background:linear-gradient(to right,#2e0c42 0.0%,#2e0c42 7.0%,#2c0c40 49.8%,#2c0c40 93.3%,#2c0c40 100.0%)"></div>
<div class="r" style="top:472px;height:5px;background:#2c0c40"></div>
<div class="r" style="top:467px;height:5px;background:linear-gradient(to right,#240a33 0.0%,#240a33 7.0%,#230930 26.7%,#280a38 49.8%,#270a37 74.0%,#280a38 93.3%,#280a38 100.0%)"></div>
<div class="r" style="top:462px;height:5px;background:linear-gradient(to right,#260a36 0.0%,#260a36 7.0%,#21092d 26.7%,#240a33 38.3%,#280a38 49.8%,#260a36 74.0%,#260a36 93.3%,#260a36 100.0%)"></div>
<div class="r" style="top:457px;height:5px;background:linear-gradient(to right,#280a38 0.0%,#280a38 7.0%,#260a36 26.7%,#280a38 49.8%,#260a36 74.0%,#260a36 93.3%,#260a36 100.0%)"></div>
<div class="r" style="top:452px;height:5px;background:linear-gradient(to right,#3e1149 0.0%,#3e1149 7.0%,#360f48 26.7%,#2d0c41 38.3%,#280a38 49.8%,#260a36 74.0%,#280b3a 93.3%,#280b3a 100.0%)"></div>
<div class="r" style="top:447px;height:5px;background:linear-gradient(to right,#3b1048 0.0%,#3b1048 7.0%,#360f48 26.7%,#2c0c40 38.3%,#260a36 49.8%,#2a0c3e 74.0%,#320e47 93.3%,#320e47 100.0%)"></div>
<div class="r" style="top:442px;height:5px;background:linear-gradient(to right,#2c0c40 0.0%,#2c0c40 7.0%,#2c0c40 26.7%,#290b3b 49.8%,#2a0c3e 74.0%,#2c0c40 93.3%,#2c0c40 100.0%)"></div>
<div class="r" style="top:437px;height:5px;background:linear-gradient(to right,#330e48 0.0%,#330e48 7.0%,#2c0c40 26.7%,#280a38 49.8%,#280a38 74.0%,#280b3a 93.3%,#280b3a 100.0%)"></div>
<div class="r" style="top:432px;height:5px;background:linear-gradient(to right,#411249 0.0%,#411249 7.0%,#391048 13.6%,#320e47 20.1%,#2a0c3e 26.7%,#2a0c3e 49.8%,#2c0c40 74.0%,#280a38 93.3%,#280a38 100.0%)"></div>
<div class="r" style="top:427px;height:5px;background:linear-gradient(to right,#55164a 0.0%,#55164a 7.0%,#4d154a 13.6%,#45134a 20.1%,#3c1148 26.7%,#411249 49.8%,#360f48 74.0%,#2e0d43 83.6%,#280b3a 93.3%,#280b3a 100.0%)"></div>
<div class="r" style="top:422px;height:5px;background:linear-gradient(to right,#5b184a 0.0%,#5b184a 7.0%,#5e184a 26.7%,#61194a 49.8%,#5a174a 61.9%,#52164a 74.0%,#4b144a 83.6%,#441349 93.3%,#441349 100.0%)"></div>
<div class="r" style="top:418px;height:4px;background:linear-gradient(to right,#320e47 0.0%,#320e47 7.0%,#3a1048 10.3%,#45134a 13.6%,#50154a 16.9%,#5a174a 20.1%,#651a4a 23.4%,#6e1c4c 26.7%,#771e4e 38.3%,#7f214c 49.8%,#771e4e 57.9%,#6f1c4c 65.9%,#661a4a 74.0%,#5e184a 80.4%,#55164a 86.8%,#4c144a 93.3%,#4c144a 100.0%)"></div>
<div class="r" style="top:413px;height:5px;background:linear-gradient(to right,#260a36 0.0%,#260a36 7.0%,#2c0c40 11.9%,#360f48 16.9%,#411249 21.8%,#4d154a 26.7%,#58174a 34.4%,#641a4a 42.1%,#6e1c4c 49.8%,#651a4a 57.9%,#5a174a 65.9%,#50154a 74.0%,#46134a 78.8%,#3d1148 83.6%,#350f48 88.5%,#2c0c40 93.3%,#2c0c40 100.0%)"></div>
<div class="r" style="top:408px;height:5px;background:linear-gradient(to right,#240a33 0.0%,#240a33 7.0%,#270a37 26.7%,#2c0c40 34.4%,#350f48 42.1%,#3e1149 49.8%,#3b1048 74.0%,#340e48 83.6%,#2c0c40 93.3%,#2c0c40 100.0%)"></div>
<div class="r" style="top:403px;height:5px;background:linear-gradient(to right,#280a38 0.0%,#280a38 7.0%,#260a36 26.7%,#240a33 49.8%,#280a38 74.0%,#280a38 93.3%,#280a38 100.0%)"></div>
<div class="r" style="top:398px;height:5px;background:linear-gradient(to right,#280a38 0.0%,#280a38 7.0%,#2a0c3e 26.7%,#280a38 49.8%,#260a36 74.0%,#260a36 93.3%,#260a36 100.0%)"></div>
<div class="r" style="top:393px;height:5px;background:linear-gradient(to right,#280b3a 0.0%,#280b3a 7.0%,#2c0c40 26.7%,#280a38 49.8%,#2c0c40 61.9%,#340e48 74.0%,#3c1148 93.3%,#3c1148 100.0%)"></div>
<div class="r" style="top:388px;height:5px;background:linear-gradient(to right,#2c0c40 0.0%,#2c0c40 7.0%,#2a0c3e 26.7%,#2a0c3e 49.8%,#330e48 61.9%,#3b1048 74.0%,#3c1148 93.3%,#3c1148 100.0%)"></div>
<div class="r" style="top:383px;height:5px;background:linear-gradient(to right,#3b1048 0.0%,#3b1048 7.0%,#340e48 13.6%,#2b0c3e 20.1%,#260a36 26.7%,#230930 49.8%,#280a38 61.9%,#2c0c40 74.0%,#330e48 83.6%,#391048 93.3%,#391048 100.0%)"></div>
<div class="r" style="top:378px;height:5px;background:linear-gradient(to right,#22092f 0.0%,#22092f 7.0%,#1c0724 26.7%,#230930 38.3%,#290b3b 49.8%,#320e47 61.9%,#3b1048 74.0%,#360f48 93.3%,#360f48 100.0%)"></div>
<div class="r" style="top:373px;height:5px;background:linear-gradient(to right,#21092d 0.0%,#21092d 7.0%,#250a34 16.9%,#280b3a 26.7%,#2e0d43 38.3%,#360f48 49.8%,#360f48 74.0%,#2c0c40 93.3%,#2c0c40 100.0%)"></div>
<div class="r" style="top:368px;height:5px;background:linear-gradient(to right,#2c0c40 0.0%,#2c0c40 7.0%,#350e48 16.9%,#3c1148 26.7%,#340e48 49.8%,#2b0c3f 61.9%,#260a36 74.0%,#260a36 93.3%,#260a36 100.0%)"></div>
<div class="r" style="top:363px;height:5px;background:linear-gradient(to right,#47144a 0.0%,#47144a 7.0%,#401249 16.9%,#391048 26.7%,#300d44 34.4%,#280b3a 42.1%,#230930 49.8%,#260a36 74.0%,#280b3a 93.3%,#280b3a 100.0%)"></div>
<div class="r" style="top:358px;height:5px;background:linear-gradient(to right,#47144a 0.0%,#47144a 7.0%,#3d1148 16.9%,#340e48 26.7%,#2a0c3e 34.4%,#240a33 42.1%,#1e0827 49.8%,#20092c 74.0%,#260a36 93.3%,#260a36 100.0%)"></div>
<div class="r" style="top:353px;height:5px;background:linear-gradient(to right,#280b3a 0.0%,#280b3a 7.0%,#22092f 26.7%,#230930 49.8%,#270a37 74.0%,#280b3a 93.3%,#280b3a 100.0%)"></div>
<div class="r" style="top:348px;height:5px;background:linear-gradient(to right,#391048 0.0%,#391048 7.0%,#320e47 16.9%,#2a0c3e 26.7%,#240a33 49.8%,#260a36 74.0%,#2a0c3e 93.3%,#2a0c3e 100.0%)"></div>
<div class="r" style="top:343px;height:5px;background:linear-gradient(to right,#391048 0.0%,#391048 7.0%,#3b1048 26.7%,#330e48 34.4%,#2a0b3d 42.1%,#240a33 49.8%,#260a36 74.0%,#280b3a 93.3%,#280b3a 100.0%)"></div>
<div class="r" style="top:338px;height:5px;background:linear-gradient(to right,#330e48 0.0%,#330e48 7.0%,#2c0c40 16.9%,#280b3a 26.7%,#240a33 49.8%,#2a0c3e 74.0%,#2a0c3e 93.3%,#2a0c3e 100.0%)"></div>
<div class="r" style="top:333px;height:5px;background:linear-gradient(to right,#260a36 0.0%,#260a36 7.0%,#260a36 26.7%,#2c0c40 38.3%,#360f48 49.8%,#411249 74.0%,#441349 93.3%,#441349 100.0%)"></div>
<div class="r" style="top:328px;height:5px;background:linear-gradient(to right,#260a36 0.0%,#260a36 7.0%,#2b0c3e 16.9%,#330e48 26.7%,#3a1048 34.4%,#431349 42.1%,#4d154a 49.8%,#4a144a 74.0%,#411249 83.6%,#391048 93.3%,#391048 100.0%)"></div>
<div class="r" style="top:323px;height:5px;background:linear-gradient(to right,#1c0724 0.0%,#1c0724 7.0%,#20082b 16.9%,#230931 26.7%,#290b3a 32.5%,#300d44 38.3%,#380f48 44.0%,#411249 49.8%,#360f48 74.0%,#360f48 93.3%,#360f48 100.0%)"></div>
<div class="r" style="top:318px;height:5px;background:linear-gradient(to right,#15041c 0.0%,#15041c 7.0%,#15041c 26.7%,#1d0826 34.4%,#230931 42.1%,#290b3b 49.8%,#2a0c3e 74.0%,#330e48 78.8%,#3a1048 83.6%,#431349 88.5%,#4d154a 93.3%,#4d154a 100.0%)"></div>
<div class="r" style="top:313px;height:5px;background:linear-gradient(to right,#1f082a 0.0%,#1f082a 7.0%,#1c0724 26.7%,#20092c 38.3%,#240a33 49.8%,#2a0c3e 57.9%,#340e48 65.9%,#3e1149 74.0%,#47144a 93.3%,#47144a 100.0%)"></div>
<div class="r" style="top:308px;height:5px;background:linear-gradient(to right,#441349 0.0%,#441349 7.0%,#441349 26.7%,#411249 49.8%,#3c1148 74.0%,#391048 93.3%,#391048 100.0%)"></div>
<div class="r" style="top:303px;height:5px;background:linear-gradient(to right,#4d154a 0.0%,#4d154a 7.0%,#55164a 16.9%,#5e184a 26.7%,#54164a 34.4%,#4b144a 42.1%,#411249 49.8%,#360f48 61.9%,#2c0c40 74.0%,#2c0c40 93.3%,#2c0c40 100.0%)"></div>
<div class="r" style="top:298px;height:5px;background:linear-gradient(to right,#320e47 0.0%,#320e47 7.0%,#370f48 16.9%,#3c1148 26.7%,#340e48 38.3%,#2a0c3e 49.8%,#2a0c3e 74.0%,#320e47 93.3%,#320e47 100.0%)"></div>
<div class="r" style="top:293px;height:5px;background:linear-gradient(to right,#260a36 0.0%,#260a36 7.0%,#2c0c40 26.7%,#340e48 38.3%,#3b1048 49.8%,#441349 74.0%,#3d1148 83.6%,#360f48 93.3%,#360f48 100.0%)"></div>
<div class="r" style="top:289px;height:4px;background:linear-gradient(to right,#1c0724 0.0%,#1c0724 7.0%,#21092d 16.9%,#260a36 26.7%,#2b0c3e 34.4%,#340e48 42.1%,#3b1048 49.8%,#411249 74.0%,#360f48 93.3%,#360f48 100.0%)"></div>
<div class="r" style="top:284px;height:5px;background:linear-gradient(to right,#280a38 0.0%,#280a38 7.0%,#2c0c40 13.6%,#340e48 20.1%,#3b1048 26.7%,#3e1149 49.8%,#340e48 61.9%,#2a0c3e 74.0%,#2c0c40 93.3%,#2c0c40 100.0%)"></div>
<div class="r" style="top:279px;height:5px;background:linear-gradient(to right,#280a38 0.0%,#280a38 7.0%,#2c0c40 13.6%,#340e48 20.1%,#3b1048 26.7%,#360f48 49.8%,#2c0c40 74.0%,#280a38 93.3%,#280a38 100.0%)"></div>
<div class="r" style="top:274px;height:5px;background:linear-gradient(to right,#4d154a 0.0%,#4d154a 7.0%,#441349 13.6%,#3b1048 20.1%,#340e48 26.7%,#2a0c3e 32.5%,#240a33 38.3%,#1e0827 44.0%,#15041c 49.8%,#1d0827 61.9%,#230931 74.0%,#280a38 93.3%,#280a38 100.0%)"></div>
<div class="r" style="top:269px;height:5px;background:linear-gradient(to right,#4c144a 0.0%,#4c144a 7.0%,#421249 13.6%,#391048 20.1%,#310d45 26.7%,#2a0b3c 32.5%,#250a34 38.3%,#20082b 44.0%,#190622 49.8%,#20092c 61.9%,#260a36 74.0%,#280b3a 93.3%,#280b3a 100.0%)"></div>
<div class="r" style="top:264px;height:5px;background:linear-gradient(to right,#441349 0.0%,#441349 7.0%,#391048 16.9%,#2f0d43 26.7%,#280b3a 38.3%,#230930 49.8%,#280b3a 61.9%,#2f0d43 74.0%,#340e48 93.3%,#340e48 100.0%)"></div>
<div class="r" style="top:259px;height:5px;background:linear-gradient(to right,#360f48 0.0%,#360f48 7.0%,#2c0c40 16.9%,#260a36 26.7%,#230930 49.8%,#280a38 74.0%,#2c0c40 83.6%,#340e48 93.3%,#340e48 100.0%)"></div>
<div class="r" style="top:254px;height:5px;background:linear-gradient(to right,#280b3a 0.0%,#280b3a 7.0%,#2a0c3e 26.7%,#290b3b 49.8%,#230930 61.9%,#1c0724 74.0%,#1f082a 93.3%,#1f082a 100.0%)"></div>
<div class="r" style="top:249px;height:5px;background:linear-gradient(to right,#1c0724 0.0%,#1c0724 7.0%,#21092d 16.9%,#260a36 26.7%,#290b3b 49.8%,#2a0c3e 74.0%,#260a37 83.6%,#22092f 93.3%,#22092f 100.0%)"></div>
<div class="r" style="top:244px;height:5px;background:linear-gradient(to right,#230930 0.0%,#230930 7.0%,#1f0829 26.7%,#230931 38.3%,#280a38 49.8%,#2c0c40 57.9%,#350f48 65.9%,#3c1148 74.0%,#360f48 93.3%,#360f48 100.0%)"></div>
<div class="r" style="top:239px;height:5px;background:linear-gradient(to right,#2c0c40 0.0%,#2c0c40 7.0%,#280a38 26.7%,#240a33 49.8%,#2a0b3d 55.9%,#330e48 61.9%,#3c1148 67.9%,#47144a 74.0%,#411249 83.6%,#3b1048 93.3%,#3b1048 100.0%)"></div>
<div class="r" style="top:234px;height:5px;background:linear-gradient(to right,#280a38 0.0%,#280a38 7.0%,#280b3a 26.7%,#240a33 49.8%,#2a0b3d 57.9%,#330e48 65.9%,#3c1148 74.0%,#3b1048 93.3%,#3b1048 100.0%)"></div>
<div class="r" style="top:229px;height:5px;background:linear-gradient(to right,#1f082a 0.0%,#1f082a 7.0%,#1f0829 26.7%,#240932 32.5%,#290b3a 38.3%,#2f0d43 44.0%,#360f48 49.8%,#360f48 74.0%,#3c1148 80.4%,#441349 86.8%,#4c144a 93.3%,#4c144a 100.0%)"></div>
<div class="r" style="top:224px;height:5px;background:linear-gradient(to right,#1c0724 0.0%,#1c0724 7.0%,#1c0724 26.7%,#21092e 32.5%,#270a37 38.3%,#2c0c3f 44.0%,#340e48 49.8%,#3c1148 74.0%,#360f48 93.3%,#360f48 100.0%)"></div>
<div class="r" style="top:219px;height:5px;background:linear-gradient(to right,#2a0c3e 0.0%,#2a0c3e 7.0%,#330e48 16.9%,#3b1048 26.7%,#411249 49.8%,#48144a 61.9%,#50154a 74.0%,#47144a 78.8%,#3e1148 83.6%,#360f48 88.5%,#2e0c42 93.3%,#2e0c42 100.0%)"></div>
<div class="r" style="top:214px;height:5px;background:linear-gradient(to right,#2c0c40 0.0%,#2c0c40 7.0%,#340e48 16.9%,#3b1048 26.7%,#411249 49.8%,#360f48 74.0%,#2e0d43 83.6%,#280b3a 93.3%,#280b3a 100.0%)"></div>
<div class="r" style="top:209px;height:5px;background:linear-gradient(to right,#280a38 0.0%,#280a38 7.0%,#230931 16.9%,#1f0829 26.7%,#230930 49.8%,#20092c 74.0%,#240a33 93.3%,#240a33 100.0%)"></div>
<div class="r" style="top:204px;height:5px;background:linear-gradient(to right,#2e0c42 0.0%,#2e0c42 7.0%,#280b3a 26.7%,#2f0d43 49.8%,#290b3a 61.9%,#230931 74.0%,#280a38 93.3%,#280a38 100.0%)"></div>
<div class="r" style="top:199px;height:5px;background:linear-gradient(to right,#260a36 0.0%,#260a36 7.0%,#2c0c40 16.9%,#360f48 26.7%,#3e1149 34.4%,#47144a 42.1%,#50154a 49.8%,#48144a 61.9%,#411249 74.0%,#3e1149 93.3%,#3e1149 100.0%)"></div>
<div class="r" style="top:194px;height:5px;background:linear-gradient(to right,#230930 0.0%,#230930 7.0%,#280b3a 26.7%,#290b3b 49.8%,#300d44 57.9%,#380f48 65.9%,#411249 74.0%,#441349 93.3%,#441349 100.0%)"></div>
<div class="r" style="top:189px;height:5px;background:linear-gradient(to right,#260a36 0.0%,#260a36 7.0%,#230931 26.7%,#280b3a 34.4%,#2e0d43 42.1%,#360f48 49.8%,#2e0c42 57.9%,#280b39 65.9%,#22092f 74.0%,#280b3a 80.4%,#300d44 86.8%,#391048 93.3%,#391048 100.0%)"></div>
<div class="r" style="top:184px;height:5px;background:linear-gradient(to right,#260a36 0.0%,#260a36 7.0%,#2c0c40 26.7%,#290b3b 49.8%,#250a35 61.9%,#21092d 74.0%,#270a38 80.4%,#2d0c41 86.8%,#370f48 93.3%,#360f48 100.0%)"></div>
<div class="r" style="top:179px;height:5px;background:linear-gradient(to right,#240a33 0.0%,#240a33 7.0%,#280a38 26.7%,#280a38 49.8%,#2a0c3e 74.0%,#340e48 93.3%,#340e48 100.0%)"></div>
<div class="r" style="top:174px;height:5px;background:linear-gradient(to right,#260a36 0.0%,#260a36 7.0%,#240a33 26.7%,#2a0c3e 49.8%,#340e48 61.9%,#3c1148 74.0%,#360f48 93.3%,#360f48 100.0%)"></div>
<div class="r" style="top:169px;height:5px;background:linear-gradient(to right,#260a36 0.0%,#260a36 7.0%,#21092d 26.7%,#270a37 38.3%,#2c0c40 49.8%,#340e48 57.9%,#3b1048 65.9%,#441349 74.0%,#4d154a 93.3%,#4d154a 100.0%)"></div>
<div class="r" style="top:164px;height:5px;background:linear-gradient(to right,#2c0c40 0.0%,#2c0c40 7.0%,#260a36 26.7%,#290b3b 49.8%,#2e0d43 61.9%,#360f48 74.0%,#3d1148 80.4%,#46144a 86.8%,#50154a 93.3%,#50154a 100.0%)"></div>
<div class="r" style="top:160px;height:4px;background:linear-gradient(to right,#2c0c40 0.0%,#2c0c40 7.0%,#2c0c40 26.7%,#360f48 49.8%,#411249 74.0%,#3a1048 83.6%,#340e48 93.3%,#340e48 100.0%)"></div>
<div class="gv" style="left:445px"></div>
<div class="gv" style="left:673px"></div>
<div class="gv" style="left:900px"></div>
<div class="gv" style="left:1127px"></div>
<div class="gv" style="left:1354px"></div>
<div class="gv" style="left:1581px"></div>
<div class="gv" style="left:1809px"></div>
<div class="gv" style="left:2036px"></div>
<div class="gh" style="top:1375px"></div>
<div class="gh" style="top:1321px"></div>
<div class="gh" style="top:1274px"></div>
<div class="gh" style="top:1233px"></div>
<div class="gh" style="top:1197px"></div>
<div class="gh" style="top:955px"></div>
<div class="gh" style="top:813px"></div>
<div class="gh" style="top:713px"></div>
<div class="gh" style="top:635px"></div>
<div class="gh" style="top:571px"></div>
<div class="gh" style="top:518px"></div>
<div class="gh" style="top:471px"></div>
<div class="gh" style="top:430px"></div>
<div class="gh" style="top:393px"></div>
<div class="k" style="left:310px;top:160px;width:1px;height:1281px"></div>
<div class="k" style="left:310px;top:1440px;width:1864px;height:1px"></div>
<div class="k" style="left:310px;top:1376px;width:32px;height:1px"></div>
<div class="k" style="left:310px;top:1322px;width:32px;height:1px"></div>
<div class="k" style="left:310px;top:1275px;width:32px;height:1px"></div>
<div class="k" style="left:310px;top:1234px;width:32px;height:1px"></div>
<div class="k" style="left:310px;top:1198px;width:64px;height:1px"></div>
<div class="k" style="left:310px;top:956px;width:32px;height:1px"></div>
<div class="k" style="left:310px;top:814px;width:32px;height:1px"></div>
<div class="k" style="left:310px;top:714px;width:32px;height:1px"></div>
<div class="k" style="left:310px;top:636px;width:32px;height:1px"></div>
<div class="k" style="left:310px;top:572px;width:32px;height:1px"></div>
<div class="k" style="left:310px;top:519px;width:32px;height:1px"></div>
<div class="k" style="left:310px;top:472px;width:32px;height:1px"></div>
<div class="k" style="left:310px;top:431px;width:32px;height:1px"></div>
<div class="k" style="left:310px;top:394px;width:64px;height:1px"></div>
<div class="k" style="left:310px;top:1422px;width:1px;height:18px"></div>
<div class="k" style="left:355px;top:1422px;width:1px;height:18px"></div>
<div class="k" style="left:401px;top:1422px;width:1px;height:18px"></div>
<div class="k" style="left:446px;top:1405px;width:1px;height:35px"></div>
<div class="k" style="left:492px;top:1422px;width:1px;height:18px"></div>
<div class="k" style="left:537px;top:1422px;width:1px;height:18px"></div>
<div class="k" style="left:583px;top:1422px;width:1px;height:18px"></div>
<div class="k" style="left:628px;top:1422px;width:1px;height:18px"></div>
<div class="k" style="left:674px;top:1405px;width:1px;height:35px"></div>
<div class="k" style="left:719px;top:1422px;width:1px;height:18px"></div>
<div class="k" style="left:764px;top:1422px;width:1px;height:18px"></div>
<div class="k" style="left:810px;top:1422px;width:1px;height:18px"></div>
<div class="k" style="left:855px;top:1422px;width:1px;height:18px"></div>
<div class="k" style="left:901px;top:1405px;width:1px;height:35px"></div>
<div class="k" style="left:946px;top:1422px;width:1px;height:18px"></div>
<div class="k" style="left:992px;top:1422px;width:1px;height:18px"></div>
<div class="k" style="left:1037px;top:1422px;width:1px;height:18px"></div>
<div class="k" style="left:1082px;top:1422px;width:1px;height:18px"></div>
<div class="k" style="left:1128px;top:1405px;width:1px;height:35px"></div>
<div class="k" style="left:1173px;top:1422px;width:1px;height:18px"></div>
<div class="k" style="left:1219px;top:1422px;width:1px;height:18px"></div>
<div class="k" style="left:1264px;top:1422px;width:1px;height:18px"></div>
<div class="k" style="left:1310px;top:1422px;width:1px;height:18px"></div>
<div class="k" style="left:1355px;top:1405px;width:1px;height:35px"></div>
<div class="k" style="left:1401px;top:1422px;width:1px;height:18px"></div>
<div class="k" style="left:1446px;top:1422px;width:1px;height:18px"></div>
<div class="k" style="left:1491px;top:1422px;width:1px;height:18px"></div>
<div class="k" style="left:1537px;top:1422px;width:1px;height:18px"></div>
<div class="k" style="left:1582px;top:1405px;width:1px;height:35px"></div>
<div class="k" style="left:1628px;top:1422px;width:1px;height:18px"></div>
<div class="k" style="left:1673px;top:1422px;width:1px;height:18px"></div>
<div class="k" style="left:1719px;top:1422px;width:1px;height:18px"></div>
<div class="k" style="left:1764px;top:1422px;width:1px;height:18px"></div>
<div class="k" style="left:1810px;top:1405px;width:1px;height:35px"></div>
<div class="k" style="left:1855px;top:1422px;width:1px;height:18px"></div>
<div class="k" style="left:1900px;top:1422px;width:1px;height:18px"></div>
<div class="k" style="left:1946px;top:1422px;width:1px;height:18px"></div>
<div class="k" style="left:1991px;top:1422px;width:1px;height:18px"></div>
<div class="k" style="left:2037px;top:1405px;width:1px;height:35px"></div>
<div class="k" style="left:2082px;top:1422px;width:1px;height:18px"></div>
<div class="k" style="left:2128px;top:1422px;width:1px;height:18px"></div>
<div class="k" style="left:2173px;top:1422px;width:1px;height:18px"></div>
<div style="left:2186px;top:160px;width:117px;height:1280px;background:linear-gradient(to bottom,#f4f3f0 0.00%,#f0ebda 3.12%,#ede3c2 5.66%,#eadcaa 8.20%,#e8d498 10.55%,#e5c87c 14.06%,#e3bc62 17.97%,#e2b04c 21.87%,#e2aa3e 24.22%,#e2a436 26.56%,#e29a2c 30.08%,#e08c22 34.37%,#de7e1a 38.28%,#dc7016 42.19%,#d96014 46.09%,#d65212 49.61%,#cc4816 52.34%,#c23e1e 55.47%,#b83624 58.59%,#ae2e2a 61.72%,#a42a30 64.84%,#9a2836 67.19%,#92263a 69.14%,#862242 71.88%,#7c2050 74.22%,#701c4c 76.56%,#641a4a 78.91%,#56164a 81.25%,#48144a 83.59%,#3a1048 85.94%,#330e48 87.50%,#2c0c40 88.67%,#260a36 90.62%,#1e0828 92.97%,#14041a 95.31%,#080208 97.66%,#000000 100.00%)"></div>
<div style="left:2241px;top:1294px;width:62px;height:1px;background:#000"></div>
<div class="t lb" style="left:2315px;top:1268px">0</div>
<div style="left:2241px;top:1044px;width:62px;height:1px;background:#000"></div>
<div class="t lb" style="left:2315px;top:1018px">0.2</div>
<div style="left:2241px;top:794px;width:62px;height:1px;background:#000"></div>
<div class="t lb" style="left:2315px;top:768px">0.4</div>
<div style="left:2241px;top:544px;width:62px;height:1px;background:#000"></div>
<div class="t lb" style="left:2315px;top:518px">0.6</div>
<div style="left:2241px;top:294px;width:62px;height:1px;background:#000"></div>
<div class="t lb" style="left:2315px;top:268px">0.8</div>
<div class="t lb" style="left:247px;top:1448px;width:400px;text-align:center">4.255</div>
<div class="t lb" style="left:474px;top:1448px;width:400px;text-align:center">4.26</div>
<div class="t lb" style="left:701px;top:1448px;width:400px;text-align:center">4.265</div>
<div class="t lb" style="left:928px;top:1448px;width:400px;text-align:center">4.27</div>
<div class="t lb" style="left:1156px;top:1448px;width:400px;text-align:center">4.275</div>
<div class="t lb" style="left:1383px;top:1448px;width:400px;text-align:center">4.28</div>
<div class="t lb" style="left:1610px;top:1448px;width:400px;text-align:center">4.285</div>
<div class="t lb" style="left:1837px;top:1448px;width:400px;text-align:center">4.29</div>
<div class="t lb" style="left:233px;top:1350px">60</div>
<div class="t lb" style="left:233px;top:1296px">70</div>
<div class="t lb" style="left:216px;top:1176px">10</div>
<div class="t" style="left:272px;top:1168px;font-size:35px">2</div>
<div class="t lb" style="left:216px;top:934px">10</div>
<div class="t" style="left:272px;top:926px;font-size:35px">2</div>
<div class="t lb" style="left:161px;top:934px">2</div>
<svg style="position:absolute;left:186px;top:949px" width="34" height="34" viewBox="0 0 34 34"><path d="M3.96 3.71L28.64 28.19M28.64 3.71L3.96 28.19" stroke="#efe5c9" stroke-width="3" fill="none"/></svg>
<div class="t lb" style="left:216px;top:792px">10</div>
<div class="t" style="left:272px;top:784px;font-size:35px">2</div>
<div class="t lb" style="left:161px;top:792px">3</div>
<svg style="position:absolute;left:186px;top:808px" width="34" height="34" viewBox="0 0 34 34"><path d="M3.96 3.24L28.64 27.72M28.64 3.24L3.96 27.72" stroke="#efe5c9" stroke-width="3" fill="none"/></svg>
<div class="t lb" style="left:216px;top:692px">10</div>
<div class="t" style="left:272px;top:684px;font-size:35px">2</div>
<div class="t lb" style="left:161px;top:692px">4</div>
<svg style="position:absolute;left:186px;top:707px" width="34" height="34" viewBox="0 0 34 34"><path d="M3.96 3.87L28.64 28.35M28.64 3.87L3.96 28.35" stroke="#efe5c9" stroke-width="3" fill="none"/></svg>
<div class="t lb" style="left:216px;top:614px">10</div>
<div class="t" style="left:272px;top:606px;font-size:35px">2</div>
<div class="t lb" style="left:161px;top:614px">5</div>
<svg style="position:absolute;left:186px;top:629px" width="34" height="34" viewBox="0 0 34 34"><path d="M3.96 4.01L28.64 28.49M28.64 4.01L3.96 28.49" stroke="#efe5c9" stroke-width="3" fill="none"/></svg>
<div class="t lb" style="left:216px;top:550px">10</div>
<div class="t" style="left:272px;top:542px;font-size:35px">2</div>
<div class="t lb" style="left:161px;top:550px">6</div>
<svg style="position:absolute;left:186px;top:566px" width="34" height="34" viewBox="0 0 34 34"><path d="M3.96 3.39L28.64 27.87M28.64 3.39L3.96 27.87" stroke="#efe5c9" stroke-width="3" fill="none"/></svg>
<div class="t lb" style="left:216px;top:372px">10</div>
<div class="t" style="left:272px;top:364px;font-size:35px">3</div>
<svg style="position:absolute;left:955px;top:10px" width="60" height="95" viewBox="0 0 60 95"><g fill="none" stroke="#efe5c9" stroke-width="3.3" stroke-linecap="round" stroke-linejoin="round"><path stroke-width="3.7" d="M21 10.9C17.5 10.3 14.3 12.8 14.2 16.6C14.1 19.4 17 20.6 21 20"/><path d="M20.9 20.3C18 21.6 16 25 16 28.3C16 31.6 18 34.2 21.4 35.3"/><path d="M21.4 35.6C16.5 39.5 12.2 45.5 11.7 52"/><path d="M41.9 73.5C42.3 76 41 79 38.5 81.5C36 83.8 33.5 84.6 31 84.4"/></g><g fill="#efe5c9" stroke="none"><path d="M20.5 18.6C23 16.5 28 12.6 32.7 12.2C35 12.1 36.3 13.2 35.8 14.8C35 17.5 30 20.5 24 21.7L20.5 21.8Z"/><path d="M21.2 34.1C25 32.5 31 31 35.2 31.1C38 31.2 39.8 32.6 39.6 34.5C39.3 36.8 36 38.3 31.4 38.3C27 38.3 24 37.5 21.2 36.8Z"/><path d="M10 52C10.2 57 12.5 62.5 15.7 65.3C18.5 67.8 22 68.8 25.1 68.8C29 68.8 32 68.3 35.2 68.5C37.8 68.7 39.6 70.5 40.2 74L43.6 73.5C44 68 42.5 64.8 40 63C38 61.6 36.5 61.2 33 61.2C30 61.2 28 61.3 26 61.2C22 61 19.5 60.3 17.3 58.2C15.3 56.3 13.8 54 13.4 51.5Z"/><ellipse cx="29" cy="82" rx="4" ry="4.1"/></g></svg>
<div class="t" style="left:1002.7px;top:13px;font-size:78px;transform-origin:0 0;transform:scaleX(0.745)">(</div>
<div class="t sy" style="left:1024px;top:12px;font-size:80px;-webkit-text-stroke:1.1px #efe5c9">δ</div>
<div class="t " style="left:1082.9px;top:13.0px;font-size:78px">t</div>
<div class="t " style="left:1103.0px;top:13.0px;font-size:78px">,</div>
<div class="t " style="left:1147.1px;top:13.0px;font-size:78px">f</div>
<div class="t" style="left:1171.3px;top:13px;font-size:78px;transform-origin:0 0;transform:scaleX(0.745)">)</div>
<div class="t " style="left:1192.9px;top:13.0px;font-size:78px">,</div>
<div class="t " style="left:1236.3px;top:13.0px;font-size:78px">Q</div>
<div class="t " style="left:1318.0px;top:13.0px;font-size:78px">=</div>
<div class="t" style="left:1383.5px;top:13px;font-size:78px;letter-spacing:-0.5px">72.478</div>
<div class="t" style="left:1555px;top:1499px;font-size:52px;letter-spacing:0.13px">Time delay: t(L1) - t(H1) [s]</div>
<div class="t" style="left:114px;top:156px;font-size:52px;transform-origin:0 0;transform:rotate(-90deg) translate(-100%,0)">Frequency [Hz]</div>
<div class="t" style="left:2419px;top:162.5px;font-size:52px;transform-origin:0 0;transform:rotate(-90deg) translate(-100%,0)">Cross-correlation <span class="sy" style="visibility:hidden">ξ</span></div>
<svg style="position:absolute;left:2400px;top:150px" width="100" height="50" viewBox="0 0 100 50"><g transform="translate(22.8 33.9) rotate(-90) scale(0.68) translate(-10 -9)"><g fill="none" stroke="#efe5c9" stroke-width="3.3" stroke-linecap="round" stroke-linejoin="round"><path stroke-width="3.7" d="M21 10.9C17.5 10.3 14.3 12.8 14.2 16.6C14.1 19.4 17 20.6 21 20"/><path d="M20.9 20.3C18 21.6 16 25 16 28.3C16 31.6 18 34.2 21.4 35.3"/><path d="M21.4 35.6C16.5 39.5 12.2 45.5 11.7 52"/><path d="M41.9 73.5C42.3 76 41 79 38.5 81.5C36 83.8 33.5 84.6 31 84.4"/></g><g fill="#efe5c9" stroke="none"><path d="M20.5 18.6C23 16.5 28 12.6 32.7 12.2C35 12.1 36.3 13.2 35.8 14.8C35 17.5 30 20.5 24 21.7L20.5 21.8Z"/><path d="M21.2 34.1C25 32.5 31 31 35.2 31.1C38 31.2 39.8 32.6 39.6 34.5C39.3 36.8 36 38.3 31.4 38.3C27 38.3 24 37.5 21.2 36.8Z"/><path d="M10 52C10.2 57 12.5 62.5 15.7 65.3C18.5 67.8 22 68.8 25.1 68.8C29 68.8 32 68.3 35.2 68.5C37.8 68.7 39.6 70.5 40.2 74L43.6 73.5C44 68 42.5 64.8 40 63C38 61.6 36.5 61.2 33 61.2C30 61.2 28 61.3 26 61.2C22 61 19.5 60.3 17.3 58.2C15.3 56.3 13.8 54 13.4 51.5Z"/><ellipse cx="29" cy="82" rx="4" ry="4.1"/></g></g></svg>
</body></html>
